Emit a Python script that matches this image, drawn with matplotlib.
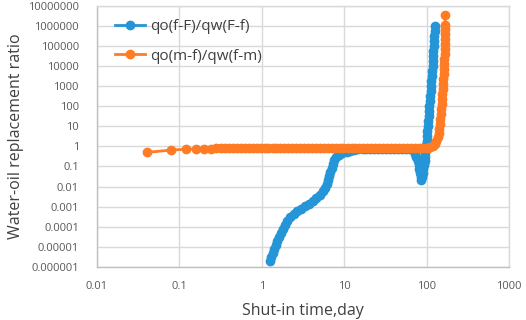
import matplotlib
matplotlib.use("Agg")
import matplotlib.pyplot as plt

# ---------------- data ----------------
x_ticks = [0.01, 0.1, 1, 10, 100, 1000]
x_tick_labels = ["0.01", "0.1", "1", "10", "100", "1000"]
y_ticks = [1e7, 1e6, 1e5, 1e4, 1e3, 1e2, 1e1, 1, 0.1, 0.01, 0.001, 1e-4, 1e-5, 1e-6]
y_tick_labels = ["10000000", "1000000", "100000", "10000", "1000", "100", "10", "1",
                 "0.1", "0.01", "0.001", "0.0001", "0.00001", "0.000001"]

series_names = ["qo(f-F)/qw(F-f)", "qo(m-f)/qw(f-m)"]

blue_t = [1.25, 1.30, 1.36, 1.42, 1.48, 1.55, 1.63, 1.71, 1.80, 1.91, 2.03, 2.21, 2.44, 2.69,
          2.96, 3.31, 3.70, 4.14, 4.56, 5.03, 5.47, 5.86, 6.17, 6.40, 6.60, 6.81, 7.04, 7.30,
          7.58, 7.97, 8.66, 9.53, 10.7, 11.9, 13.3, 14.9,
          16.7, 18.6, 20.8, 23.2, 25.9, 29.0, 32.4, 36.2, 40.4, 45.0, 50.3, 56.2, 62.8, 67.0,
          69.5, 71.5, 74.9, 77.6, 79.8, 81.8, 83.7, 84.9, 85.5,
          87.9, 89.9, 91.6, 93.3, 94.6, 95.7, 96.8, 97.8, 98.9, 100.0,
          101.1, 102.3, 103.4, 104.5, 105.7, 106.9, 108.1, 109.0, 110.2, 111.5, 112.7, 114.0,
          115.3, 116.6, 117.9, 118.9, 119.8, 120.8, 121.9, 122.9, 123.9, 124.9, 126.0]
blue_ratio = [2.0e-6, 3.2e-6, 5.0e-6, 7.9e-6, 1.23e-5, 2.0e-5, 3.1e-5, 4.9e-5, 7.8e-5, 1.23e-4,
              1.95e-4, 2.9e-4, 4.1e-4, 5.8e-4, 7.7e-4, 1.03e-3, 1.37e-3, 1.94e-3, 2.7e-3, 3.8e-3,
              5.7e-3, 8.5e-3, 0.0135, 0.021, 0.034, 0.054, 0.085, 0.135, 0.21, 0.30, 0.38, 0.45,
              0.51, 0.56, 0.63, 0.71,
              0.73, 0.74, 0.75, 0.75, 0.76, 0.76, 0.76, 0.76, 0.77, 0.77, 0.77, 0.77, 0.76, 0.72,
              0.60, 0.42, 0.30, 0.19, 0.12, 0.076, 0.048, 0.030, 0.020,
              0.030, 0.048, 0.076, 0.12, 0.19, 0.30, 0.47, 0.75, 1.19, 1.9,
              3.33, 5.9, 10.5, 18.6, 33.0, 58.6, 104, 185, 327, 581, 1030, 1830,
              3240, 5750, 1.02e4, 1.81e4, 3.21e4, 5.7e4, 1.01e5, 1.79e5, 3.18e5, 5.65e5, 1.0e6]

orange_t = [0.04, 0.08, 0.12, 0.16, 0.20, 0.24, 0.28, 0.32, 0.36, 0.40, 0.45, 0.50, 0.56, 0.62,
            0.70, 0.78, 0.87, 0.97, 1.08, 1.2, 1.35, 1.5, 1.68, 1.88, 2.1, 2.35, 2.6, 2.9, 3.25,
            3.65, 4.1, 4.55, 5.1, 5.7, 6.35, 7.1, 7.9, 8.8, 9.8, 11.0, 12.3, 13.7, 15.3, 17.1,
            19.1, 21.3, 23.8, 26.6, 29.7, 33.2, 37.0, 41.3, 46.1, 51.5, 57.5, 64.2, 71.7, 80.0,
            89.0, 97.0,
            102.6, 110.5, 118.5, 125.3, 131.8, 136.6, 140.1, 142.8, 145.2, 147.2, 148.9, 150.6,
            152.3, 154.0, 155.7, 157.0, 158.3, 159.6, 161.0, 161.9, 163.2, 164.2, 165.1, 166.0,
            166.5, 167.0, 167.4, 167.9, 168.0, 168.2]
orange_ratio = [0.50, 0.65, 0.72, 0.74, 0.76, 0.77, 0.78, 0.78, 0.79, 0.79, 0.80, 0.80, 0.80, 0.81,
                0.81, 0.81, 0.81, 0.82, 0.82, 0.82, 0.82, 0.82, 0.82, 0.83, 0.83, 0.83, 0.83, 0.83,
                0.83, 0.83, 0.83, 0.83, 0.83, 0.82, 0.82, 0.82, 0.82, 0.82, 0.82, 0.82, 0.82, 0.82,
                0.82, 0.82, 0.82, 0.82, 0.82, 0.82, 0.82, 0.82, 0.82, 0.82, 0.82, 0.82, 0.82, 0.82,
                0.82, 0.82, 0.82, 0.83,
                0.84, 0.89, 1.06, 1.33, 1.88, 2.97, 4.7, 7.4, 13.2, 23.4, 41.5, 73.9,
                131, 233, 412, 732, 1300, 2300, 4100, 7250, 1.29e4, 2.29e4, 4.06e4, 7.2e4,
                1.27e5, 2.26e5, 4.0e5, 7.1e5, 1.12e6, 3.5e6]

# ---------------- figure ----------------
plt.rcParams['font.family'] = ['Open Sans', 'DejaVu Sans']
fig = plt.figure(figsize=(5.26, 3.20), dpi=100)
ax = fig.add_axes([0.1844, 0.1656, 0.7833, 0.8172])

blue = '#2495d6'
orange = '#ff7c24'

ax.plot(blue_t, blue_ratio, '-o', color=blue, lw=2.0, ms=6.0, mec=blue, label=series_names[0])
ax.plot(orange_t, orange_ratio, '-o', color=orange, lw=2.0, ms=6.0, mec=orange, label=series_names[1])

ax.set_xscale('log')
ax.set_yscale('log')
ax.set_xlim(0.01, 1000)
ax.set_ylim(1e-6, 1e7)

ax.set_xticks(x_ticks)
ax.set_xticklabels(x_tick_labels)
ax.set_yticks(y_ticks)
ax.set_yticklabels(y_tick_labels)
ax.minorticks_off()
ax.tick_params(length=0, labelsize=8, labelcolor='#595959', pad=13)
ax.tick_params(axis='x', pad=10)

ax.grid(True, color='#d9d9d9', lw=1.0)
ax.set_axisbelow(True)
for s in ['top', 'right']:
    ax.spines[s].set_color('#d9d9d9')
    ax.spines[s].set_linewidth(1.0)
for s in ['left', 'bottom']:
    ax.spines[s].set_color('#bfbfbf')
    ax.spines[s].set_linewidth(1.0)

ax.set_xlabel('Shut-in time,day', fontsize=11.5, color='#404040', labelpad=8)
ax.set_ylabel('Water-oil replacement ratio', fontsize=11.5, color='#404040', labelpad=3)

ax.legend(loc='upper left', bbox_to_anchor=(0.01, 1.0), frameon=False, fontsize=11,
          handlelength=2.0, handletextpad=0.3, labelspacing=0.95, labelcolor='#404040')

fig.savefig('out.png', dpi=100)
